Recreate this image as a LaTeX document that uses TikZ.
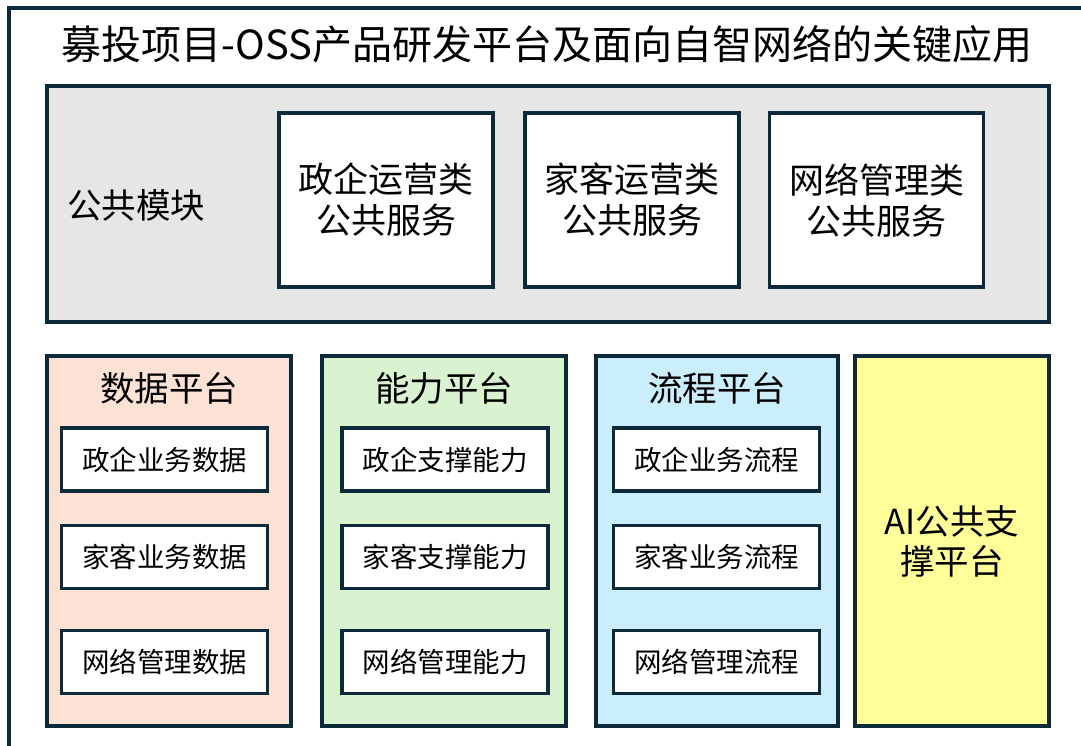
\documentclass[tikz,border=0pt]{standalone}
\usepackage{fontspec}
\usepackage{xcolor}
\usepackage{tikz}
\usetikzlibrary{calc,positioning,backgrounds}
\newfontfamily\cjk{Noto Sans CJK SC}

\definecolor{navy}{HTML}{0D2A3A}
\definecolor{modgray}{HTML}{E6E6E6}
\definecolor{datapink}{HTML}{FBE2D5}
\definecolor{abgreen}{HTML}{D9F2D0}
\definecolor{flowblue}{HTML}{CAEEFB}
\definecolor{aiyellow}{HTML}{FFFF99}

\begin{document}
\begin{tikzpicture}[x=1pt, y=-1pt]
\tikzstyle{frm}=[draw = navy, line width = 3.5pt]
\tikzstyle{big}=[frm, rectangle, inner sep = 0pt]
\tikzstyle{svc}=[frm, rectangle, fill = white, minimum width = 214pt, minimum height = 174pt, align = center, font = \cjk\fontsize{35}{41}\selectfont]
\tikzstyle{itm}=[frm, rectangle, fill = white, minimum width = 206pt, minimum height = 63pt, font = \cjk\fontsize{27.5}{30}\selectfont]
\tikzstyle{ttl}=[inner sep = 0pt, font = \cjk\fontsize{34.5}{41}\selectfont]

\useasboundingbox (0,0) rectangle (1081,745);
\clip (0,0) rectangle (1081,745);
\fill[white] (0,0) rectangle (1081,745);

% outer frame
\draw[frm] (9,760) |- (1095,8);
\node[ttl, font = \cjk\fontsize{40}{46}\selectfont] (title) at (547,44) {募投项目-OSS产品研发平台及面向自智网络的关键应用};

% public module
\node[big, fill = modgray, minimum width = 1002pt, minimum height = 236pt] (pub) at (548,204) {};
\node[ttl, anchor = west] (publbl) at (67,205) {公共模块};
\node[svc] (s1) at (386,200) {政企运营类\\公共服务};
\node[svc] (s2) at (632,200) {家客运营类\\公共服务};
\node[svc] (s3) at (876.5,200) {网络管理类\\公共服务};

% platforms
\node[big, fill = datapink, minimum width = 244pt, minimum height = 370pt] (data) at (169,541) {};
\node[big, fill = abgreen, minimum width = 244pt, minimum height = 370pt] (abil) at (444,541) {};
\node[big, fill = flowblue, minimum width = 242pt, minimum height = 370pt] (flow) at (717,541) {};
\node[big, fill = aiyellow, minimum width = 194pt, minimum height = 370pt, align = center, font = \cjk\fontsize{34.5}{40}\selectfont] (ai) at (952,541) {AI公共支\\撑平台};

\node[ttl] (datalbl) at (169,388) {数据平台};
\node[ttl] (abillbl) at (444,388) {能力平台};
\node[ttl] (flowlbl) at (717,388) {流程平台};

\node[itm] (d1) at (164.5,459.5) {政企业务数据};
\node[itm] (d2) at (164.5,557) {家客业务数据};
\node[itm] (d3) at (164.5,662) {网络管理数据};

\node[itm] (a1) at (445,459.5) {政企支撑能力};
\node[itm] (a2) at (445,557) {家客支撑能力};
\node[itm] (a3) at (445,662) {网络管理能力};

\node[itm] (f1) at (716.5,459.5) {政企业务流程};
\node[itm] (f2) at (716.5,557) {家客业务流程};
\node[itm] (f3) at (716.5,662) {网络管理流程};
\end{tikzpicture}
\end{document}
